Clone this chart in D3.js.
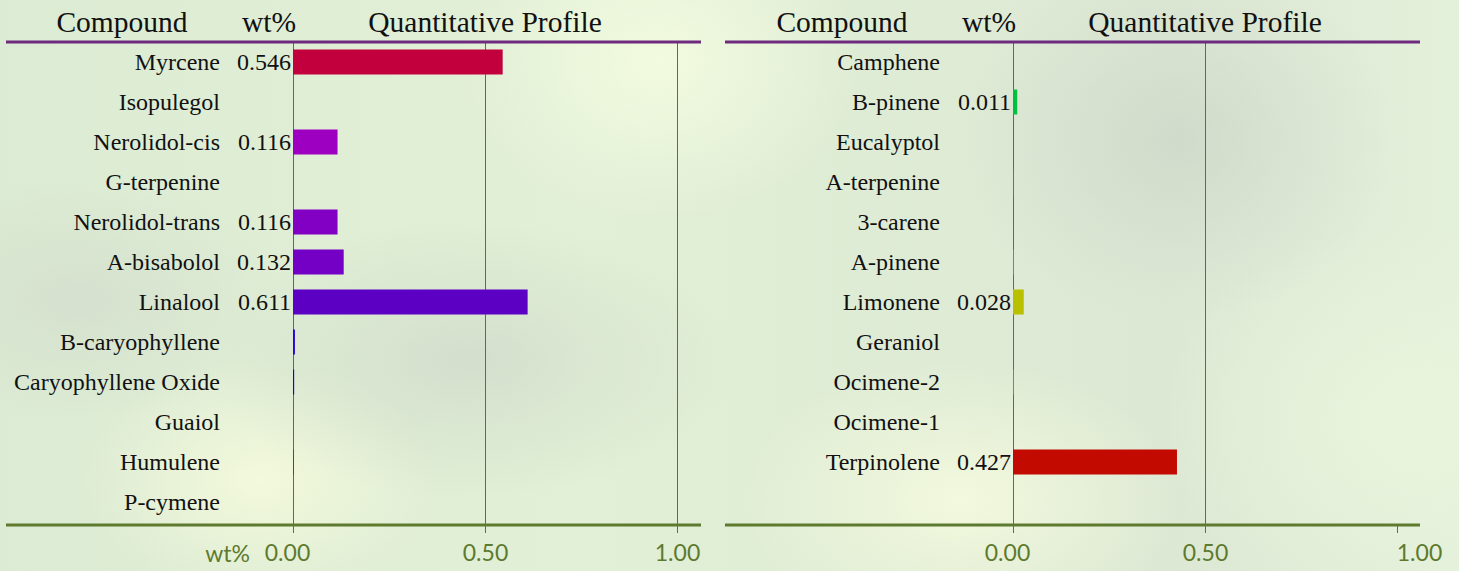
<!DOCTYPE html>
<html>
<head>
<meta charset="utf-8">
<script src="https://cdn.jsdelivr.net/npm/d3@7/dist/d3.min.js"></script>
<style>
  html, body { margin: 0; padding: 0; }
  body {
    width: 1459px; height: 571px; overflow: hidden;
    background:
      radial-gradient(ellipse 260px 140px at 470px 360px, rgba(200,210,196,0.55), rgba(200,210,196,0) 100%),
      radial-gradient(ellipse 220px 180px at 1180px 140px, rgba(198,208,196,0.55), rgba(198,208,196,0) 100%),
      radial-gradient(ellipse 200px 120px at 80px 300px, rgba(205,214,200,0.5), rgba(205,214,200,0) 100%),
      radial-gradient(ellipse 180px 120px at 260px 480px, rgba(245,250,220,0.9), rgba(245,250,220,0) 100%),
      radial-gradient(ellipse 220px 140px at 960px 500px, rgba(244,250,222,0.9), rgba(244,250,222,0) 100%),
      radial-gradient(ellipse 200px 160px at 660px 60px, rgba(244,252,224,0.9), rgba(244,252,224,0) 100%),
      radial-gradient(ellipse 240px 200px at 1400px 420px, rgba(236,246,222,0.8), rgba(236,246,222,0) 100%),
      linear-gradient(90deg, #dcebd3 0%, #e2f0d7 40%, #dfecd5 60%, #dde8d4 80%, #e3f0da 100%);
  }
  svg { display: block; }
</style>
</head>
<body>
<svg id="chart" width="1459" height="571"></svg>
<script>
// ---- data ----
const leftCompounds = ["Myrcene", "Isopulegol", "Nerolidol-cis", "G-terpenine", "Nerolidol-trans",
  "A-bisabolol", "Linalool", "B-caryophyllene", "Caryophyllene Oxide", "Guaiol", "Humulene", "P-cymene"];
const leftValues = [0.546, 0, 0.116, 0, 0.116, 0.132, 0.611, 0.005, 0.003, 0, 0.002, 0];
const leftColors = ["#c2003d", "#b000a0", "#9e00c2", "#8c00c4", "#8200c4", "#7400c6", "#5c00c4",
  "#2c00d8", "#1800d2", "#0a30d0", "#0050d0", "#0060d0"];

const rightCompounds = ["Camphene", "B-pinene", "Eucalyptol", "A-terpenine", "3-carene", "A-pinene",
  "Limonene", "Geraniol", "Ocimene-2", "Ocimene-1", "Terpinolene"];
const rightValues = [0, 0.011, 0, 0.001, 0, 0.002, 0.028, 0, 0.002, 0, 0.427];
const rightColors = ["#00b060", "#00c040", "#10c820", "#10d010", "#40c020", "#60b030",
  "#b9c000", "#c0a000", "#c08800", "#c04000", "#c20a00"];

const tickValues = [0, 0.5, 1.0];
const headerLabels = ["Compound", "wt%", "Quantitative Profile"];
const axisUnitLabel = "wt%";

// ---- layout ----
const svg = d3.select("#chart");
const serif = "'Liberation Serif', 'Times New Roman', Times, serif";
const sans = "Lato, 'Open Sans', sans-serif";
const axisColor = "#5e7a2e";
const gridColor = "#5f7236";
const headerLineColor = "#6e2a7e";
const topY = 42, rowStep = 40, bottomY = 525;
const plotW = 384;

function panel(opts) {
  const g = svg.append("g").attr("transform", `translate(${opts.zeroX},0)`);
  const x = d3.scaleLinear().domain([0, 1]).range([0, plotW]);
  const n = opts.cats.length;
  const y = d3.scaleBand().domain(opts.cats)
    .range([topY, topY + rowStep * n])
    .paddingInner(0.375).paddingOuter(0.1875);

  const left = -opts.leftExt, right = x(1) + opts.rightExt;

  // gridlines
  g.selectAll("line.grid").data(opts.grid).enter().append("line")
    .attr("x1", d => x(d) + 0.5).attr("x2", d => x(d) + 0.5)
    .attr("y1", topY).attr("y2", bottomY)
    .attr("stroke", gridColor).attr("stroke-width", 1);

  // bars
  g.selectAll("rect.bar").data(opts.cats).enter().append("rect")
    .attr("x", x(0))
    .attr("y", d => y(d))
    .attr("height", y.bandwidth())
    .attr("width", (d, i) => x(opts.vals[i]))
    .attr("fill", (d, i) => opts.colors[i]);

  // compound labels
  g.selectAll("text.cat").data(opts.cats).enter().append("text")
    .attr("x", -73)
    .attr("y", d => y(d) + y.bandwidth() / 2)
    .attr("dy", "0.35em")
    .attr("text-anchor", "end")
    .attr("font-family", serif).attr("font-size", 24)
    .attr("fill", "#111")
    .text(d => d);

  // value labels
  g.selectAll("text.val").data(opts.cats).enter()
    .filter((d, i) => opts.vals[i] >= 0.01)
    .append("text")
    .attr("x", -2)
    .attr("y", d => y(d) + y.bandwidth() / 2)
    .attr("dy", "0.35em")
    .attr("text-anchor", "end")
    .attr("font-family", serif).attr("font-size", 24)
    .attr("fill", "#111")
    .text(d => d3.format(".3f")(opts.vals[opts.cats.indexOf(d)]));

  // header
  const hx = [-171, -24, x(0.5)];
  g.selectAll("text.head").data(headerLabels).enter().append("text")
    .attr("x", (d, i) => hx[i])
    .attr("y", 32)
    .attr("text-anchor", "middle")
    .attr("font-family", serif).attr("font-size", 29.5)
    .attr("fill", "#111")
    .text(d => d);
  g.append("line")
    .attr("x1", left).attr("x2", right)
    .attr("y1", topY).attr("y2", topY)
    .attr("stroke", headerLineColor).attr("stroke-width", 3);

  // bottom axis
  const axis = d3.axisBottom(x).tickValues(tickValues)
    .tickFormat(d3.format(".2f")).tickSize(8).tickPadding(12);
  const ag = g.append("g").attr("transform", `translate(0,${bottomY})`).call(axis);
  ag.select(".domain").remove();
  ag.selectAll(".tick line").attr("stroke", gridColor).attr("stroke-width", 1);
  ag.selectAll(".tick text")
    .attr("fill", axisColor).attr("font-family", sans).attr("font-size", 23)
    .attr("dx", (d, i) => opts.tickDx[i]);
  g.append("line")
    .attr("x1", left).attr("x2", right)
    .attr("y1", bottomY).attr("y2", bottomY)
    .attr("stroke", axisColor).attr("stroke-width", 3);

  if (opts.unit) {
    g.append("text")
      .attr("x", -43).attr("y", bottomY + 37)
      .attr("text-anchor", "end")
      .attr("font-family", sans).attr("font-size", 23)
      .attr("fill", axisColor)
      .text(axisUnitLabel);
  }
}

panel({ zeroX: 293, cats: leftCompounds, vals: leftValues, colors: leftColors,
  grid: [0, 0.5, 1.0], leftExt: 287, rightExt: 24, tickDx: [-6, 0, 0], unit: true });
panel({ zeroX: 1013, cats: rightCompounds, vals: rightValues, colors: rightColors,
  grid: [0, 0.5], leftExt: 288, rightExt: 23, tickDx: [-6, 0, 22], unit: false });
</script>
</body>
</html>
